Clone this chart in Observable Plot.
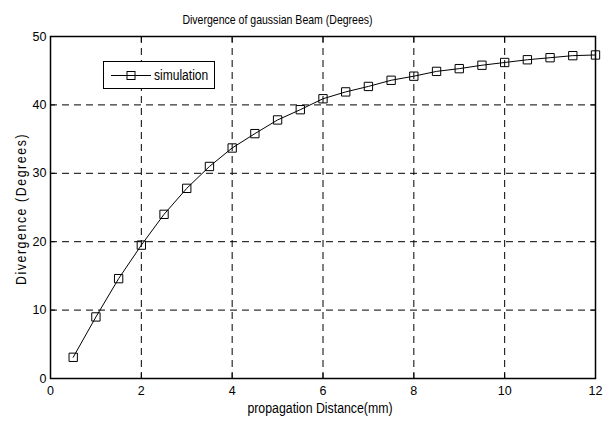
<!DOCTYPE html>
<html><head><meta charset="utf-8">
<script src="https://cdn.jsdelivr.net/npm/d3@7"></script>
<script src="https://cdn.jsdelivr.net/npm/@observablehq/plot@0.6"></script>
<style>
body{margin:0;background:#fff;}
#wrap{position:relative;width:605px;height:423px;font-family:"Liberation Sans",Arial,sans-serif;color:#000;}
.ov{position:absolute;white-space:nowrap;}
#title{left:0;width:555px;top:12px;text-align:center;font-size:13px;transform:scaleX(0.81);transform-origin:center;}
#xlab{left:48px;width:544px;top:400px;text-align:center;font-size:14px;transform:scaleX(0.88);transform-origin:center;}
#ylab{left:21px;top:209px;transform:translate(-50%,-50%) rotate(-90deg) scaleX(0.88);font-size:14px;letter-spacing:1.8px;}
#legend{left:103px;top:61px;width:110px;height:26px;border:1px solid #000;background:#fff;}
#legend svg{position:absolute;left:0;top:0;}
#legend span{position:absolute;left:50px;top:5px;font-size:14px;transform:scaleX(0.86);transform-origin:left center;}
</style></head><body>
<div id="wrap"></div>
<script>
const distance = [0.5,1,1.5,2,2.5,3,3.5,4,4.5,5,5.5,6,6.5,7,7.5,8,8.5,9,9.5,10,10.5,11,11.5,12];
const divergence = [3.1,9.0,14.6,19.5,24.0,27.8,31.0,33.7,35.8,37.8,39.3,40.9,41.9,42.7,43.6,44.2,44.9,45.3,45.8,46.2,46.6,46.9,47.2,47.3];
const xTicks = [0,2,4,6,8,10,12];
const yTicks = [0,10,20,30,40,50];
const xGrid = [2,4,6,8,10];
const yGrid = [10,20,30,40];
const titleText = "Divergence of gaussian Beam (Degrees)";
const xLabel = "propagation Distance(mm)";
const yLabel = "Divergence (Degrees)";
const seriesName = "simulation";

const data = distance.map((x,i)=>({x, y: divergence[i]}));
const font = "'Liberation Sans',Arial,sans-serif";
const chart = Plot.plot({
  width:605, height:423,
  marginLeft:50, marginRight:10, marginTop:36, marginBottom:45,
  style:{fontFamily:font, fontSize:"12px", background:"white", color:"black", overflow:"visible"},
  x:{domain:[0,12]}, y:{domain:[0,50]},
  marks:[
    Plot.ruleX(xGrid,{stroke:"black", strokeDasharray:"7,5", strokeWidth:1}),
    Plot.ruleY(yGrid,{stroke:"black", strokeDasharray:"7,5", strokeWidth:1}),
    Plot.axisX(xTicks,{anchor:"bottom", tickSize:-5, tickPadding:13, label:null, fontSize:12.5}),
    Plot.axisX(xTicks,{anchor:"top", tickSize:-5, text:null, label:null}),
    Plot.axisY(yTicks,{anchor:"left", tickSize:-5, tickPadding:9, label:null, fontSize:12.5}),
    Plot.axisY(yTicks,{anchor:"right", tickSize:-5, text:null, label:null}),
    Plot.line(data,{x:"x", y:"y", stroke:"black", strokeWidth:1}),
    Plot.dot(data,{x:"x", y:"y", symbol:"square", r:4.7, stroke:"black", fill:"none", strokeWidth:1}),
    Plot.frame({stroke:"black", strokeWidth:1.5})
  ]
});
const wrap = document.getElementById("wrap");
wrap.appendChild(chart);
function ov(id, text){ const d=document.createElement("div"); d.className="ov"; d.id=id; d.textContent=text; wrap.appendChild(d); return d; }
ov("title", titleText);
ov("xlab", xLabel);
ov("ylab", yLabel);
const lg = document.createElement("div"); lg.className="ov"; lg.id="legend";
lg.innerHTML = '<svg width="50" height="26"><line x1="7" y1="13.5" x2="47" y2="13.5" stroke="black"/><rect x="23" y="9.5" width="8" height="8" fill="none" stroke="black"/></svg>';
const sp = document.createElement("span"); sp.textContent = seriesName; lg.appendChild(sp);
wrap.appendChild(lg);
</script>
</body></html>
